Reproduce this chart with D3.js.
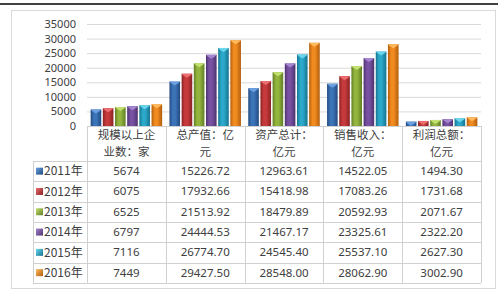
<!DOCTYPE html>
<html>
<head>
<meta charset="utf-8">
<script src="https://cdn.jsdelivr.net/npm/d3@7"></script>
<style>
  body { margin: 0; background: #fff; }
  text { font-family: "Noto Sans CJK SC", "Noto Sans", sans-serif; }
</style>
</head>
<body>
<script>
// chart values
const categories = ['规模以上企业数：家', '总产值：亿元', '资产总计：亿元', '销售收入：亿元', '利润总额：亿元']
const headerLines = [['规模以上企', '业数：家'], ['总产值：亿', '元'], ['资产总计：', '亿元'], ['销售收入：', '亿元'], ['利润总额：', '亿元']]
const years = ['2011年', '2012年', '2013年', '2014年', '2015年', '2016年']
const v2011 = [5674, 15226.72, 12963.61, 14522.05, 1494.30]
const v2012 = [6075, 17932.66, 15418.98, 17083.26, 1731.68]
const v2013 = [6525, 21513.92, 18479.89, 20592.93, 2071.67]
const v2014 = [6797, 24444.53, 21467.17, 23325.61, 2322.20]
const v2015 = [7116, 26774.70, 24545.40, 25537.10, 2627.30]
const v2016 = [7449, 29427.50, 28548.00, 28062.90, 3002.90]
const yTicks = [0, 5000, 10000, 15000, 20000, 25000, 30000, 35000]
const seriesValues = [v2011, v2012, v2013, v2014, v2015, v2016]
const colors = [
  { mid: '#3c74b8', dark: '#234a80', light: '#6a9fe0' },
  { mid: '#c63a3c', dark: '#8a2224', light: '#ec6d6f' },
  { mid: '#93b53e', dark: '#627e26', light: '#c2e070' },
  { mid: '#7851a3', dark: '#4d336e', light: '#a585d0' },
  { mid: '#2ba8ca', dark: '#17738e', light: '#6ad6ee' },
  { mid: '#f18b20', dark: '#b25e0c', light: '#ffba5e' }
]

const width = 498, height = 291
const plot = { left: 87, right: 481, top: 24, bottom: 126 }
const rowTop = 161, rowH = 20.3, legendLeft = 33

const svg = d3.select('body').append('svg')
  .attr('width', width).attr('height', height)

// gradients for the bars
const defs = svg.append('defs')
colors.forEach((c, i) => {
  const g = defs.append('linearGradient').attr('id', 'g' + i)
    .attr('x1', '0%').attr('x2', '100%').attr('y1', '0%').attr('y2', '0%')
  g.append('stop').attr('offset', '0%').attr('stop-color', c.dark)
  g.append('stop').attr('offset', '30%').attr('stop-color', c.mid)
  g.append('stop').attr('offset', '55%').attr('stop-color', c.mid)
  g.append('stop').attr('offset', '100%').attr('stop-color', c.dark)
  const k = defs.append('linearGradient').attr('id', 'k' + i)
    .attr('x1', '0%').attr('x2', '100%').attr('y1', '0%').attr('y2', '100%')
  k.append('stop').attr('offset', '0%').attr('stop-color', c.light)
  k.append('stop').attr('offset', '100%').attr('stop-color', c.dark)
})

// top black rule and outer frame
svg.append('line').attr('x1', 0).attr('x2', width).attr('y1', 4).attr('y2', 4)
  .attr('stroke', '#000').attr('stroke-width', 1.5)
svg.append('rect').attr('x', 11.5).attr('y', 10.5).attr('width', 484).attr('height', 278)
  .attr('fill', 'none').attr('stroke', '#d9d9d9')

// scales
const y = d3.scaleLinear().domain([0, 35000]).range([plot.bottom, plot.top])
const x0 = d3.scaleBand().domain(categories).range([plot.left, plot.right]).padding(0)
const x1 = d3.scaleBand().domain(years).range([0, x0.bandwidth()]).paddingInner(0.13).paddingOuter(0.3)

// y axis
const yAxis = svg.append('g')
  .attr('transform', `translate(${plot.left},0)`)
  .call(d3.axisLeft(y).tickValues(yTicks).tickFormat(d3.format('d'))
    .tickSize(-(plot.right - plot.left)).tickPadding(11))
yAxis.select('.domain').remove()
yAxis.selectAll('.tick line').attr('stroke', '#d9d9d9')
yAxis.selectAll('.tick text').attr('fill', '#404040').style('font-size', '11px')
  .style('font-family', '"Noto Sans", sans-serif')

// bars
const groups = svg.selectAll('.grp').data(categories).enter().append('g')
  .attr('transform', (d) => `translate(${x0(d)},0)`)

groups.each(function (cat, ci) {
  const g = d3.select(this)
  years.forEach((yr, si) => {
    const v = seriesValues[si][ci]
    const bx = x1(yr), bw = x1.bandwidth(), by = y(v), bh = y(0) - y(v)
    g.append('rect').attr('x', bx).attr('y', by).attr('width', bw).attr('height', bh)
      .attr('fill', `url(#g${si})`)
    const cap = Math.min(4, bh)
    g.append('path')
      .attr('d', `M${bx},${by}L${bx + bw},${by}L${bx + bw - 1.5},${by + 1.5}L${bx + bw / 2},${by + cap}L${bx + 1.5},${by + 1.5}Z`)
      .attr('fill', colors[si].light)
  })
})

// data table
const tbl = svg.append('g')
const lineCol = '#d0d0d0'
const tableBottom = rowTop + rowH * years.length
tbl.append('line').attr('x1', plot.left).attr('x2', plot.right)
  .attr('y1', plot.bottom + 0.5).attr('y2', plot.bottom + 0.5).attr('stroke', lineCol)
categories.forEach((c) => {
  tbl.append('line').attr('x1', Math.round(x0(c)) + 0.5).attr('x2', Math.round(x0(c)) + 0.5)
    .attr('y1', plot.bottom).attr('y2', tableBottom).attr('stroke', lineCol)
})
tbl.append('line').attr('x1', plot.right + 0.5).attr('x2', plot.right + 0.5)
  .attr('y1', plot.bottom).attr('y2', tableBottom).attr('stroke', lineCol)
tbl.append('line').attr('x1', legendLeft + 0.5).attr('x2', legendLeft + 0.5)
  .attr('y1', rowTop).attr('y2', tableBottom).attr('stroke', lineCol)
d3.range(years.length + 1).forEach((i) => {
  const yy = Math.round(rowTop + rowH * i) + 0.5
  tbl.append('line').attr('x1', legendLeft).attr('x2', plot.right)
    .attr('y1', yy).attr('y2', yy).attr('stroke', lineCol)
})

// header text
categories.forEach((c, ci) => {
  headerLines[ci].forEach((ln, li) => {
    tbl.append('text').attr('x', x0(c) + x0.bandwidth() / 2).attr('y', 135 + li * 17)
      .attr('text-anchor', 'middle').attr('dy', '0.35em')
      .attr('fill', '#404040').style('font-size', '11.5px').text(ln)
  })
})

// rows
years.forEach((yr, si) => {
  const cy = rowTop + rowH * si + rowH / 2
  tbl.append('rect').attr('x', 36).attr('y', cy - 3.5).attr('width', 7).attr('height', 7)
    .attr('fill', `url(#k${si})`)
  tbl.append('text').attr('x', 44).attr('y', cy).attr('dy', '0.35em')
    .attr('fill', '#404040').style('font-size', '12px').text(yr)
  categories.forEach((c, ci) => {
    const v = seriesValues[si][ci]
    tbl.append('text').attr('x', x0(c) + x0.bandwidth() / 2).attr('y', cy).attr('dy', '0.35em')
      .attr('text-anchor', 'middle').attr('fill', '#404040')
      .style('font-size', '11.5px').style('font-family', '"Noto Sans", sans-serif')
      .text(ci === 0 ? v : v.toFixed(2))
  })
})
</script>
</body>
</html>
